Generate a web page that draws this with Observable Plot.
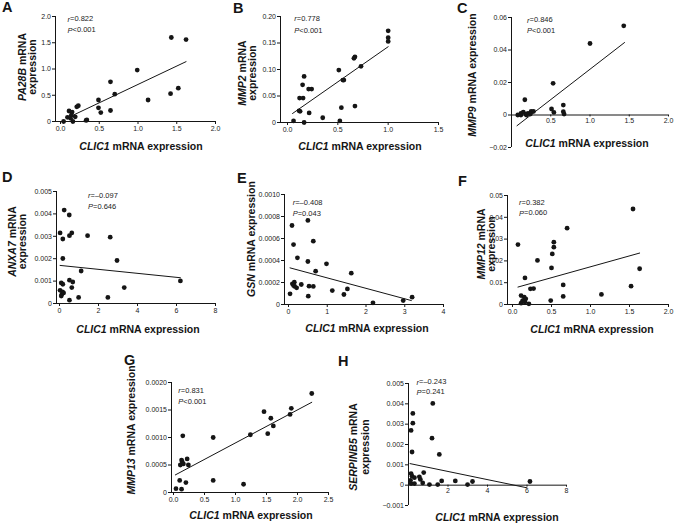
<!DOCTYPE html>
<html><head><meta charset="utf-8">
<script src="https://cdn.jsdelivr.net/npm/d3@7"></script>
<script src="https://cdn.jsdelivr.net/npm/@observablehq/plot@0.6"></script>
<style>
body{margin:0;background:#fff;}
#wrap{position:relative;width:674px;height:523px;overflow:hidden;background:#fff;}
#wrap svg.plot{position:absolute;overflow:visible;}
</style></head><body><div id="wrap"></div>
<script>
// ---------- data ----------
const letters = ["A","B","C","D","E","F","G","H"];
const genes = ["PA28B","MMP2","MMP9","ANXA7","GSN","MMP12","MMP13","SERPINB5"];
const rVals = ["0.822","0.778","0.846","\u20130.097","\u20130.408","0.382","0.831","\u20130.243"];
const pVals = ["<0.001","<0.001","<0.001","=0.646","=0.043","=0.060","<0.001","=0.241"];

const aX = [1.43,1.62,0.99,0.645,0.70,1.52,1.42,1.13,0.49,0.49,0.52,0.645,0.23,0.21,0.11,0.15,0.14,0.09,0.19,0.16,0.04,0.34,0.33,0.13];
const aY = [1.60,1.56,0.98,0.755,0.52,0.635,0.53,0.41,0.41,0.26,0.17,0.21,0.30,0.28,0.20,0.18,0.12,0.08,0.09,0,0,0.03,0.02,0.06];
const aLineX = [0.12,1.62], aLineY = [0.09,1.14];
const aXTicks = [0,0.5,1,1.5,2], aXLabels = ["0.0","0.5","1.0","1.5","2.0"];
const aYTicks = [0,0.5,1,1.5,2], aYLabels = ["0","0.5","1.0","1.5","2.0"];

const bX = [1.0,1.0,1.0,0.67,0.66,0.73,0.51,0.55,0.56,0.165,0.15,0.12,0.155,0.21,0.24,0.115,0.125,0.215,0.67,0.535,0.35,0.52,0.06,0.165];
const bY = [0.173,0.160,0.153,0.124,0.121,0.106,0.099,0.080,0.080,0.087,0.071,0.046,0.046,0.063,0.063,0.022,0.021,0.018,0.031,0.028,0.009,0.003,0.003,0];
const bLineX = [0.05,1.0], bLineY = [0.017,0.143];
const bXTicks = [0,0.5,1,1.5], bXLabels = ["0.0","0.5","1.0","1.5"];
const bYTicks = [0,0.05,0.1,0.15,0.2], bYLabels = ["0","0.05","0.10","0.15","0.20"];

const cX = [1.43,1.0,0.53,0.17,0.51,0.54,0.66,0.66,0.67,0.08,0.12,0.15,0.18,0.21,0.25,0.28,0.24,0.12,0.19];
const cY = [0.0549,0.044,0.0195,0.0094,0.0037,0.0016,0.0061,0.002,0.0006,0,0.001,0.0018,0.0006,0.001,0.0022,0.0022,0.0006,0,0];
const cLineX = [0.07,1.44], cLineY = [-0.0066,0.0446];
const cXTicks = [0.5,1,1.5,2], cXLabels = ["0.5","1.0","1.5","2.0"];
const cYTicks = [-0.02,0,0.02,0.04,0.06], cYLabels = ["\u22120.02","0","0.02","0.04","0.06"];

const dX = [0.24,0.5,0.03,0.17,0.51,0.63,1.44,2.6,2.95,0.17,1.11,0.51,0.68,0.63,0.09,0.03,0.15,0.12,0.21,0.09,0.51,0.98,2.48,3.32,6.2,0.17];
const dY = [0.00417,0.00395,0.00315,0.00288,0.00303,0.00315,0.00303,0.00296,0.00192,0.00201,0.00145,0.00104,0.00096,0.00071,0.00092,0.00059,0.00052,0.00041,0.00047,0.00033,0.00015,0.00027,0.00027,0.00071,0.00101,0.00086];
const dLineX = [0.03,6.2], dLineY = [0.0017,0.00115];
const dXTicks = [0,2,4,6,8], dXLabels = ["0","2","4","6","8"];
const dYTicks = [0,0.001,0.002,0.003,0.004,0.005], dYLabels = ["0","0.001","0.002","0.003","0.004","0.005"];

const eX = [0.09,0.5,0.13,0.64,0.23,0.5,0.98,0.7,1.62,0.15,0.1,0.16,0.21,0.33,0.53,0.64,1.13,1.52,1.43,0.51,0.04,2.18,2.96,3.19,0.13];
const eY = [0.000718,0.000764,0.000545,0.000576,0.000424,0.000391,0.00037,0.000303,0.000285,0.000203,0.000188,0.000164,0.000152,0.000182,0.000167,0.000164,0.000127,0.000142,0.000091,0.000076,0.000097,0.000015,0.000036,0.000067,0.000173];
const eLineX = [0.04,3.17], eLineY = [0.000333,0.000036];
const eXTicks = [0,1,2,3,4], eXLabels = ["0","1","2","3","4"];
const eYTicks = [0,0.0002,0.0004,0.0006,0.0008,0.001], eYLabels = ["0","0.0002","0.0004","0.0006","0.0008","0.0010"];

const fX = [1.545,0.70,0.53,0.53,0.51,0.32,0.50,0.07,0.16,0.23,0.27,1.63,1.52,0.65,0.65,1.14,0.49,0.11,0.15,0.17,0.13,0.11,0.16,0.21];
const fY = [0.0438,0.035,0.0286,0.0263,0.0232,0.0202,0.0168,0.0275,0.0122,0.0072,0.0073,0.0164,0.0084,0.009,0.0037,0.0046,0.0018,0.0041,0.0034,0.0026,0.0018,0.0006,0.0011,0.0003];
const fLineX = [0.07,1.63], fLineY = [0.008,0.0236];
const fXTicks = [0,0.5,1,1.5,2], fXLabels = ["0.0","0.5","1.0","1.5","2.0"];
const fYTicks = [0,0.01,0.02,0.03,0.04,0.05], fYLabels = ["0","0.01","0.02","0.03","0.04","0.05"];

const gX = [2.23,1.90,1.88,1.46,1.57,1.61,1.52,1.24,0.64,0.15,0.13,0.14,0.11,0.22,0.24,0.16,0.10,0.20,0.64,1.13,0.04,0.13];
const gY = [0.00180,0.00153,0.00142,0.00147,0.00135,0.00121,0.00107,0.00105,0.00100,0.00103,0.00059,0.00056,0.00050,0.00061,0.00050,0.00052,0.00022,0.00018,0.00022,0.00015,0.00007,0.00006];
const gLineX = [0.03,2.23], gLineY = [0.00032,0.00164];
const gXTicks = [0,0.5,1,1.5,2,2.5], gXLabels = ["0.0","0.5","1.0","1.5","2.0","2.5"];
const gYTicks = [0,0.0005,0.001,0.0015,0.002], gYLabels = ["0","0.0005","0.0010","0.0015","0.0020"];

const hX = [1.23,0.22,0.22,0.13,1.19,1.56,0.18,0.13,0.18,0.3,0.77,0.55,0.6,0.72,0.13,0.3,1.06,1.48,1.68,2.37,2.99,3.24,6.15,0.1];
const hY = [0.00402,0.00353,0.00305,0.00269,0.00231,0.00151,0.00163,0.00057,0.00044,0.00037,0.00062,0.00041,0.00028,0.00011,0.00008,0.00008,0.00003,0.00003,0.00021,0.00021,0.00003,0.00018,0.00018,0.00024];
const hLineX = [0.08,6.0], hLineY = [0.00106,-0.00013];
const hXTicks = [2,4,6,8], hXLabels = ["2","4","6","8"];
const hYTicks = [-0.001,0,0.001,0.002,0.003,0.004,0.005], hYLabels = ["\u22120.001","0","0.001","0.002","0.003","0.004","0.005"];

// ---------- layout ----------
const panels = [
 {L:0,T:0,W:225,H:140,ml:55,mr:10,mt:16,mb:19,inset:5,xd:[0,2],yd:[0,2],xt:aXTicks,xl:aXLabels,yt:aYTicks,yl:aYLabels,xs:aX,ys:aY,lx:aLineX,ly:aLineY,zero:false,
  let:[2,12],ycx:[22,32],ycy:67,xlab:[141,146],ann:[67.5,18.5,29.5]},
 {L:220,T:0,W:230,H:140,ml:60,mr:12,mt:16,mb:18,inset:7,xd:[0,1.5],yd:[0,0.2],xt:bXTicks,xl:bXLabels,yt:bYTicks,yl:bYLabels,xs:bX,ys:bY,lx:bLineX,ly:bLineY,zero:false,
  let:[233,12.5],ycx:[241.5,251.5],ycy:73,xlab:[360,146],ann:[294.3,18,30]},
 {L:440,T:0,W:234,H:155,ml:71,mr:6,mt:17,mb:8,inset:0,xd:[0,2],yd:[-0.02,0.06],xt:cXTicks,xl:cXLabels,yt:cYTicks,yl:cYLabels,xs:cX,ys:cY,lx:cLineX,ly:cLineY,zero:true,tick:-0.0012,
  let:[457,13],ycx:[472],ycy:75,xlab:[587,143],ann:[527,19.5,30]},
 {L:0,T:170,W:225,H:150,ml:56,mr:10,mt:21,mb:17,inset:3,xd:[0,8],yd:[0,0.005],xt:dXTicks,xl:dXLabels,yt:dYTicks,yl:dYLabels,xs:dX,ys:dY,lx:dLineX,ly:dLineY,zero:false,
  let:[2,181.5],ycx:[12,22],ycy:241.5,xlab:[138,329],ann:[88,195,206]},
 {L:220,T:170,W:230,H:150,ml:64,mr:7,mt:24,mb:16,inset:4,xd:[0,4],yd:[0,0.001],xt:eXTicks,xl:eXLabels,yt:eYTicks,yl:eYLabels,xs:eX,ys:eY,lx:eLineX,ly:eLineY,zero:false,
  let:[237,183],ycx:[251],ycy:239,xlab:[367,328],ann:[292.7,202,213]},
 {L:440,T:170,W:234,H:150,ml:67,mr:6,mt:25,mb:16,inset:5,xd:[0,2],yd:[0,0.05],xt:fXTicks,xl:fXLabels,yt:fYTicks,yl:fYLabels,xs:fX,ys:fY,lx:fLineX,ly:fLineY,zero:false,
  let:[458,186],ycx:[481,491],ycy:244,xlab:[592,329],ann:[519,202.3,212.7]},
 {L:130,T:340,W:210,H:170,ml:41,mr:12,mt:42,mb:18,inset:2,xd:[0,2.5],yd:[0,0.002],xt:gXTicks,xl:gXLabels,yt:gYTicks,yl:gYLabels,xs:gX,ys:gY,lx:gLineX,ly:gLineY,zero:false,
  let:[124,365],ycx:[131],ycy:430,xlab:[251,515],ann:[178.3,390,401]},
 {L:350,T:340,W:230,H:170,ml:58,mr:14,mt:43,mb:5,inset:0,xd:[0,8],yd:[-0.001,0.005],xt:hXTicks,xl:hXLabels,yt:hYTicks,yl:hYLabels,xs:hX,ys:hY,lx:hLineX,ly:hLineY,zero:true,tick:-0.0001,
  let:[338,366],ycx:[353,365],ycy:447,xlab:[497,517],ann:[416.5,381.7,391.7]}
];

const FONT = "'Liberation Sans', Arial, Helvetica, sans-serif";
const INK = "#151515";
const wrap = document.getElementById("wrap");

panels.forEach((p) => {
  const pts = p.xs.map((x, i) => ({x, y: p.ys[i]}));
  const fit = p.lx.map((x, i) => ({x, y: p.ly[i]}));
  const fx = d => p.xl[p.xt.indexOf(d)];
  const fy = d => p.yl[p.yt.indexOf(d)];
  const marks = [
    Plot.ruleX([p.xd[0]], {dx: -p.inset, stroke: INK, strokeWidth: 1}),
    Plot.axisY({ticks: p.yt, tickFormat: fy, tickSize: 3, tickPadding: 1.5, label: null, stroke: INK, fill: "#222"})
  ];
  if (p.zero) {
    marks.push(Plot.ruleY([0], {stroke: INK, strokeWidth: 1}));
    marks.push(Plot.ruleX(p.xt, {x: d => d, y1: 0, y2: p.tick, stroke: INK}));
    marks.push(Plot.text(p.xt, {x: d => d, y: 0, dy: 5.5, text: fx, fill: "#222"}));
  } else {
    marks.push(Plot.ruleY([p.yd[0]], {stroke: INK, strokeWidth: 1}));
    marks.push(Plot.axisX({ticks: p.xt, tickFormat: fx, tickSize: 3, tickPadding: 2, label: null, stroke: INK, fill: "#222"}));
  }
  marks.push(Plot.line(fit, {x: "x", y: "y", stroke: INK, strokeWidth: 1}));
  marks.push(Plot.dot(pts, {x: "x", y: "y", r: 2.4, fill: INK, stroke: "none"}));
  const svg = Plot.plot({
    width: p.W, height: p.H,
    marginLeft: p.ml, marginRight: p.mr, marginTop: p.mt, marginBottom: p.mb,
    x: {domain: p.xd, insetLeft: p.inset, ...(p.zero ? {axis: null} : {})},
    y: {domain: p.yd},
    style: {fontSize: "7px", fontFamily: FONT, color: "#222", background: "transparent", overflow: "visible"},
    marks
  });
  svg.classList.add("plot");
  svg.style.left = p.L + "px";
  svg.style.top = p.T + "px";
  wrap.appendChild(svg);
});

// ---------- text overlay ----------
let t = `<svg xmlns="http://www.w3.org/2000/svg" width="674" height="523" style="position:absolute;left:0;top:0;overflow:visible;font-family:${FONT};" fill="${INK}">`;
panels.forEach((p, i) => {
  t += `<text x="${p.let[0]}" y="${p.let[1]}" font-size="14.5" font-weight="bold">${letters[i]}</text>`;
  const g = `<tspan font-style="italic">${genes[i]}</tspan>`;
  if (p.ycx.length === 2) {
    t += `<text transform="translate(${p.ycx[0]},${p.ycy}) rotate(-90)" text-anchor="middle" dominant-baseline="central" font-size="10.5" font-weight="bold">${g} mRNA</text>`;
    t += `<text transform="translate(${p.ycx[1]},${p.ycy}) rotate(-90)" text-anchor="middle" dominant-baseline="central" font-size="10.5" font-weight="bold">expression</text>`;
  } else {
    t += `<text transform="translate(${p.ycx[0]},${p.ycy}) rotate(-90)" text-anchor="middle" dominant-baseline="central" font-size="10.5" font-weight="bold">${g} mRNA expression</text>`;
  }
  t += `<text x="${p.xlab[0]}" y="${p.xlab[1]}" text-anchor="middle" dominant-baseline="central" font-size="10.5" font-weight="bold"><tspan font-style="italic">CLIC1</tspan> mRNA expression</text>`;
  t += `<text x="${p.ann[0]}" y="${p.ann[1]}" dominant-baseline="central" font-size="7.5" fill="#222"><tspan font-style="italic">r</tspan>=${rVals[i]}</text>`;
  t += `<text x="${p.ann[0]}" y="${p.ann[2]}" dominant-baseline="central" font-size="7.5" fill="#222"><tspan font-style="italic">P</tspan>${pVals[i]}</text>`;
});
t += `</svg>`;
wrap.insertAdjacentHTML("beforeend", t);
</script></body></html>
